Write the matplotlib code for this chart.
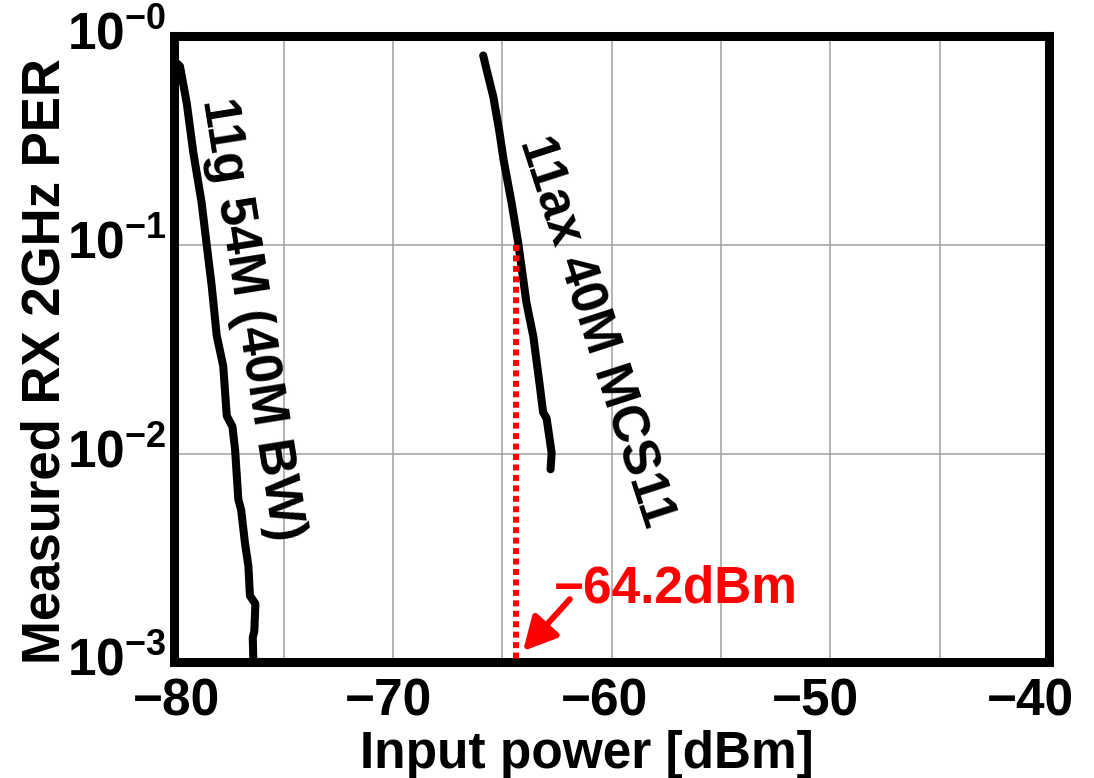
import matplotlib
matplotlib.use('Agg')
import matplotlib.pyplot as plt
import matplotlib.transforms as mtrans
from matplotlib.ticker import FixedLocator, FixedFormatter, MultipleLocator, NullLocator

plt.rcParams['font.family'] = ['Liberation Sans', 'DejaVu Sans']
plt.rcParams['font.weight'] = 'bold'
plt.rcParams['mathtext.fontset'] = 'custom'
plt.rcParams['mathtext.rm'] = 'Liberation Sans:bold'
plt.rcParams['mathtext.it'] = 'Liberation Sans:bold'
plt.rcParams['mathtext.bf'] = 'Liberation Sans:bold'
plt.rcParams['mathtext.sf'] = 'Liberation Sans:bold'

# ---- data ----
x_11g = [-80.0, -79.75, -79.44, -79.14, -78.76, -78.53, -78.30, -78.07, -77.77,
         -77.61, -77.35, -77.23, -77.08, -76.95, -76.78, -76.62, -76.55, -76.30,
         -76.35, -76.42, -76.38]
per_11g = [0.76, 0.72, 0.48, 0.278, 0.160, 0.101, 0.064, 0.0369, 0.0263,
           0.0152, 0.0135, 0.0105, 0.00605, 0.00537, 0.00376, 0.0029, 0.00209, 0.00191,
           0.00141, 0.00132, 0.00089]

x_11ax = [-65.88, -65.70, -65.42, -65.15, -64.95, -64.58, -64.28, -63.90, -63.59,
          -63.29, -63.14, -62.98, -62.75, -62.80]
per_11ax = [0.811, 0.676, 0.515, 0.355, 0.257, 0.159, 0.1026, 0.0528, 0.0366,
            0.0211, 0.0158, 0.0148, 0.0101, 0.00843]

x_ticks = [-80, -70, -60, -50, -40]
x_ticklabels = ['\u221280', '\u221270', '\u221260', '\u221250', '\u221240']
y_ticks = [1e0, 1e-1, 1e-2, 1e-3]
y_ticklabels = [r'$10^{-0}$', r'$10^{-1}$', r'$10^{-2}$', r'$10^{-3}$']

sens_x = -64.4
sens_per = 0.1
sens_label = '\u221264.2dBm'

label_11g = '11g 54M (40M BW)'
label_11ax = '11ax 40M MCS11'
xlabel = 'Input power [dBm]'
ylabel = 'Measured RX 2GHz PER'

# ---- figure ----
fig = plt.figure(figsize=(10.94, 7.78), dpi=100)
ax = fig.add_axes([0.1595, 0.1485, 0.7994, 0.8046])
ax.set_yscale('log')
ax.set_xlim(-80, -40)
ax.set_ylim(1e-3, 1)

ax.xaxis.set_major_locator(FixedLocator(x_ticks))
ax.xaxis.set_major_formatter(FixedFormatter(x_ticklabels))
ax.xaxis.set_minor_locator(MultipleLocator(5))
ax.yaxis.set_major_locator(FixedLocator(y_ticks))
ax.yaxis.set_major_formatter(FixedFormatter(y_ticklabels))
ax.yaxis.set_minor_locator(NullLocator())

ax.grid(True, which='both', axis='x', color='#a0a0a0', lw=1.1)
ax.grid(True, which='major', axis='y', color='#a0a0a0', lw=1.1)
ax.set_axisbelow(True)

ax.tick_params(axis='both', which='both', length=0)
ax.tick_params(axis='x', labelsize=37, pad=11)
ax.tick_params(axis='y', labelsize=37, pad=6)
for lab in ax.get_xticklabels() + ax.get_yticklabels():
    lab.set_fontweight('bold')

for sp in ax.spines.values():
    sp.set_linewidth(6.5)
    sp.set_color('black')

ax.plot(x_11g, per_11g, color='black', lw=5.8, solid_capstyle='round',
        solid_joinstyle='round', zorder=3)
ax.plot(x_11ax, per_11ax, color='black', lw=5.8, solid_capstyle='round',
        solid_joinstyle='round', zorder=3)

ax.plot([sens_x, sens_x], [sens_per, 1e-3], color='#ff0000', lw=4.3,
        linestyle=(0, (1.0, 0.75)), clip_on=False, zorder=6)

ax.text(-76.50, 0.044, label_11g, rotation=-81, rotation_mode='anchor',
        ha='center', va='center', fontsize=37, fontweight='bold', color='black')
ax.text(-60.73, 0.0386, label_11ax, rotation=-72, rotation_mode='anchor',
        ha='center', va='center', fontsize=37, fontweight='bold', color='black')

ax.text(-57.07, 0.001946, sens_label, ha='center', va='baseline', fontsize=37,
        fontweight='bold', color='#ff0000')
ax.annotate('', xy=(-64.06, 0.001135), xytext=(-61.92, 0.00201),
            arrowprops=dict(arrowstyle='-|>,head_length=0.5,head_width=0.26',
                            mutation_scale=40, lw=4.3, color='#ff0000',
                            shrinkA=0, shrinkB=0))

ax.set_xlabel(xlabel, fontsize=37, fontweight='bold', va='baseline')
ax.xaxis.set_label_coords(0.4717, -0.1685)
ax.set_ylabel(ylabel, fontsize=38, fontweight='bold', va='center')
ax.yaxis.set_label_coords(-0.148, 0.4816)

# small per-label nudges (pixels) so tick labels sit where the reference shows them
x_label_nudge_px = [2, -5, -7, -15, -19]
for tick, dx in zip(ax.xaxis.get_major_ticks(), x_label_nudge_px):
    tick.label1.set_transform(tick.label1.get_transform() +
                              mtrans.ScaledTranslation(dx / 100, 0, fig.dpi_scale_trans))
for tick in ax.yaxis.get_major_ticks():
    tick.label1.set_transform(tick.label1.get_transform() +
                              mtrans.ScaledTranslation(0, 6 / 100, fig.dpi_scale_trans))

fig.savefig('out.png', dpi=100)
